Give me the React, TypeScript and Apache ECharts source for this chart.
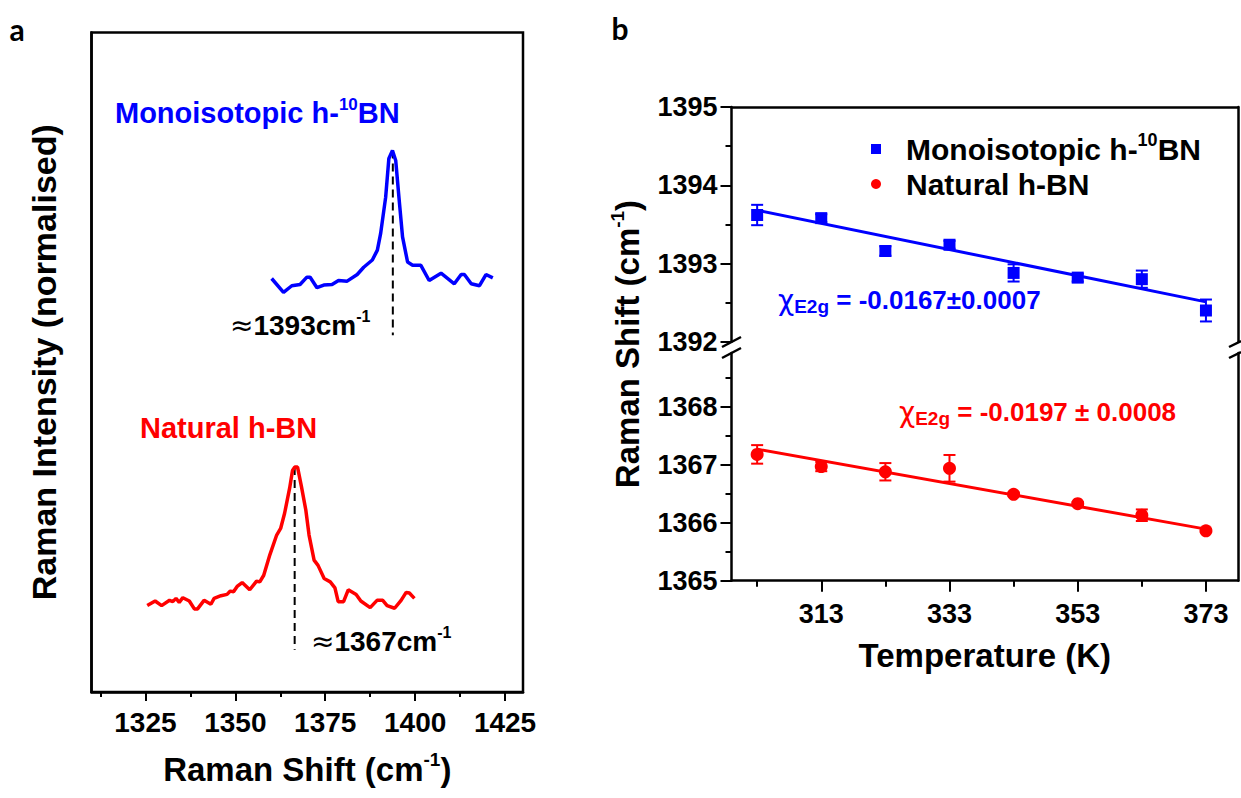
import React, { useEffect, useRef } from 'react';
import * as echarts from 'echarts';

const FONT = "'Liberation Sans', Arial, Helvetica, sans-serif";
const BLUE = '#0000FF';
const RED = '#FF0000';
const BLACK = '#000000';

// ---------- Panel a: Raman spectra (normalised intensity) ----------
const monoShift = [1360.1, 1363.4, 1365.7, 1368.0, 1369.9, 1370.8, 1372.7, 1374.6, 1376.9, 1378.7, 1381.1, 1383.9, 1385.7, 1388.1, 1389.5, 1390.4, 1391.8, 1392.7, 1393.7, 1394.6, 1395.5, 1396.5, 1397.9, 1399.3, 1401.6, 1403.9, 1407.2, 1410.9, 1412.8, 1413.7, 1415.6, 1417.9, 1419.7, 1421.6];
const monoIntensity = [0.627, 0.606, 0.616, 0.618, 0.629, 0.629, 0.613, 0.617, 0.618, 0.624, 0.623, 0.633, 0.644, 0.655, 0.670, 0.695, 0.750, 0.809, 0.821, 0.806, 0.750, 0.690, 0.652, 0.647, 0.647, 0.624, 0.635, 0.619, 0.633, 0.633, 0.619, 0.616, 0.633, 0.628];
const naturalShift = [1325.5, 1327.7, 1329.5, 1331.7, 1332.6, 1333.5, 1334.4, 1335.4, 1337.2, 1338.6, 1339.5, 1341.3, 1343.2, 1344.1, 1346.0, 1347.7, 1348.6, 1349.5, 1350.5, 1351.9, 1354.0, 1355.9, 1356.8, 1357.9, 1359.6, 1361.5, 1362.6, 1363.7, 1365.1, 1365.9, 1366.5, 1367.3, 1368.4, 1369.6, 1370.5, 1371.9, 1373.0, 1374.7, 1376.4, 1377.7, 1378.6, 1380.1, 1381.4, 1383.6, 1384.9, 1387.5, 1389.4, 1391.0, 1392.2, 1394.3, 1396.1, 1397.5, 1398.4, 1399.8];
const naturalIntensity = [0.131, 0.138, 0.131, 0.139, 0.137, 0.142, 0.136, 0.143, 0.138, 0.126, 0.126, 0.139, 0.133, 0.142, 0.146, 0.148, 0.153, 0.152, 0.160, 0.166, 0.155, 0.168, 0.167, 0.177, 0.208, 0.238, 0.248, 0.271, 0.309, 0.336, 0.341, 0.341, 0.311, 0.276, 0.238, 0.200, 0.192, 0.172, 0.167, 0.158, 0.137, 0.137, 0.155, 0.148, 0.138, 0.128, 0.139, 0.139, 0.131, 0.127, 0.139, 0.151, 0.150, 0.142];
const monoPeakShift = 1393.8;
const monoPeakLine = [0.821, 0.541];
const naturalPeakShift = 1366.5;
const naturalPeakLine = [0.341, 0.064];
const shiftTicks = [1325, 1350, 1375, 1400, 1425];
const shiftMinorTicks = [1312.5, 1337.5, 1362.5, 1387.5, 1412.5];

// ---------- Panel b: Raman shift vs temperature ----------
const temperature = [303, 313, 323, 333, 343, 353, 363, 373];
const monoShiftT = [1393.62, 1393.58, 1393.16, 1393.24, 1392.88, 1392.82, 1392.80, 1392.40];
const monoErr = [0.13, 0.05, 0.06, 0.05, 0.11, 0.05, 0.11, 0.14];
const naturalShiftT = [1367.18, 1366.97, 1366.88, 1366.94, 1366.49, 1366.33, 1366.13, 1365.86];
const naturalErr = [0.16, 0.08, 0.15, 0.23, 0.03, 0.03, 0.10, 0.02];
const fitT = [303, 373];
const monoFit = [1393.68, 1392.51];
const naturalFit = [1367.27, 1365.89];
const tempTicks = [313, 333, 353, 373];
const tempMinorTicks = [303, 323, 343, 363];
const upperTicks = [1392, 1393, 1394, 1395];
const upperMinorTicks = [1392.5, 1393.5, 1394.5];
const lowerTicks = [1365, 1366, 1367, 1368];
const lowerMinorTicks = [1365.5, 1366.5, 1367.5, 1368.5];

const MONO_NAME = 'Monoisotopic h-10BN';
const NAT_NAME = 'Natural h-BN';

const plain = (v: number) => String(v);

const richZ = (color: string, size: number, supSize: number) => ({
  t: { fill: color, fontSize: size, fontWeight: 'bold', fontFamily: FONT, lineHeight: size + 6, verticalAlign: 'middle' },
  s: { fill: color, fontSize: supSize, fontWeight: 'bold', fontFamily: FONT, lineHeight: supSize + 2, verticalAlign: 'top' },
  b: { fill: color, fontSize: supSize, fontWeight: 'bold', fontFamily: FONT, lineHeight: supSize + 2, verticalAlign: 'bottom' },
  c: { fill: color, fontSize: size + 2, fontWeight: 'normal', fontFamily: "'DejaVu Sans', sans-serif", lineHeight: size + 6, verticalAlign: 'middle' },
  a: { fill: color, fontSize: size, fontWeight: 'normal', fontFamily: "'DejaVu Sans', sans-serif", lineHeight: size + 6, verticalAlign: 'middle' },
});

const richOpt = (color: string, size: number, supSize: number) => ({
  t: { color, fontSize: size, fontWeight: 'bold', fontFamily: FONT, lineHeight: size + 6, verticalAlign: 'middle' },
  s: { color, fontSize: supSize, fontWeight: 'bold', fontFamily: FONT, lineHeight: supSize + 2, verticalAlign: 'top' },
});

function errorBarRenderer(color: string) {
  return (params: any, api: any) => {
    const x = api.value(0);
    const lo = api.coord([x, api.value(1)]);
    const hi = api.coord([x, api.value(2)]);
    const w = 6;
    const st = { stroke: color, lineWidth: 2 };
    return {
      type: 'group',
      children: [
        { type: 'line', shape: { x1: lo[0], y1: lo[1], x2: hi[0], y2: hi[1] }, style: st },
        { type: 'line', shape: { x1: lo[0] - w, y1: lo[1], x2: lo[0] + w, y2: lo[1] }, style: st },
        { type: 'line', shape: { x1: hi[0] - w, y1: hi[1], x2: hi[0] + w, y2: hi[1] }, style: st },
      ],
    };
  };
}

function buildOption() {
  const axisLineStyle = { color: BLACK, width: 2.5 };
  const tickStyle = { color: BLACK, width: 2 };
  const labelStyle = (size: number, margin: number) => ({
    fontSize: size, fontWeight: 'bold', color: BLACK, fontFamily: FONT, margin, formatter: plain,
  });
  const hiddenAxisBits = { splitLine: { show: false }, axisLabel: { show: false } };

  const xAxis: any[] = [
    // 0: panel a main
    {
      type: 'value', gridIndex: 0, min: 1310, max: 1430, position: 'bottom',
      axisLine: { show: true, onZero: false, lineStyle: axisLineStyle },
      axisTick: { show: true, inside: false, length: 9, lineStyle: tickStyle, customValues: shiftTicks },
      axisLabel: { ...labelStyle(28, 16), customValues: shiftTicks },
      splitLine: { show: false },
      name: '{t|Raman Shift (cm}{s|-1}{t|)}', nameLocation: 'middle', nameGap: 58,
      nameTextStyle: { rich: richOpt(BLACK, 33, 19) },
    },
    // 1: panel a minor ticks
    {
      type: 'value', gridIndex: 0, min: 1310, max: 1430, position: 'bottom',
      axisLine: { show: false, onZero: false },
      axisTick: { show: true, inside: false, length: 5, lineStyle: tickStyle, customValues: shiftMinorTicks },
      ...hiddenAxisBits,
    },
    // 2: panel b upper (top frame line)
    {
      type: 'value', gridIndex: 1, min: 299, max: 378, position: 'top',
      axisLine: { show: true, onZero: false, lineStyle: axisLineStyle },
      axisTick: { show: false },
      ...hiddenAxisBits,
    },
    // 3: panel b lower main
    {
      type: 'value', gridIndex: 2, min: 299, max: 378, position: 'bottom',
      axisLine: { show: true, onZero: false, lineStyle: axisLineStyle },
      axisTick: { show: true, inside: false, length: 11, lineStyle: tickStyle, customValues: tempTicks },
      axisLabel: { ...labelStyle(27, 20), customValues: tempTicks },
      splitLine: { show: false },
      name: 'Temperature (K)', nameLocation: 'middle', nameGap: 58,
      nameTextStyle: { fontSize: 33, fontWeight: 'bold', color: BLACK, fontFamily: FONT },
    },
    // 4: panel b lower minor
    {
      type: 'value', gridIndex: 2, min: 299, max: 378, position: 'bottom',
      axisLine: { show: false, onZero: false },
      axisTick: { show: true, inside: false, length: 6, lineStyle: tickStyle, customValues: tempMinorTicks },
      ...hiddenAxisBits,
    },
  ];

  const yAxis: any[] = [
    // 0: panel a intensity
    {
      type: 'value', gridIndex: 0, min: 0, max: 1, position: 'left',
      axisLine: { show: true, onZero: false, lineStyle: axisLineStyle },
      axisTick: { show: false },
      axisLabel: { show: false },
      splitLine: { show: false },
      name: 'Raman Intensity (normalised)', nameLocation: 'middle', nameGap: 31,
      nameTextStyle: { fontSize: 34, fontWeight: 'bold', color: BLACK, fontFamily: FONT },
    },
    // 1: panel b upper main
    {
      type: 'value', gridIndex: 1, min: 1392, max: 1395, position: 'left',
      axisLine: { show: true, onZero: false, lineStyle: axisLineStyle },
      axisTick: { show: true, inside: false, length: 11, lineStyle: tickStyle, customValues: upperTicks },
      axisLabel: { ...labelStyle(27, 14), customValues: upperTicks },
      splitLine: { show: false },
    },
    // 2: panel b upper minor
    {
      type: 'value', gridIndex: 1, min: 1392, max: 1395, position: 'left',
      axisLine: { show: false, onZero: false },
      axisTick: { show: true, inside: false, length: 6, lineStyle: tickStyle, customValues: upperMinorTicks },
      ...hiddenAxisBits,
    },
    // 3: panel b upper right frame
    {
      type: 'value', gridIndex: 1, min: 1392, max: 1395, position: 'right',
      axisLine: { show: true, onZero: false, lineStyle: axisLineStyle },
      axisTick: { show: false },
      ...hiddenAxisBits,
    },
    // 4: panel b lower main
    {
      type: 'value', gridIndex: 2, min: 1365, max: 1368.93, position: 'left',
      axisLine: { show: true, onZero: false, lineStyle: axisLineStyle },
      axisTick: { show: true, inside: false, length: 11, lineStyle: tickStyle, customValues: lowerTicks },
      axisLabel: { ...labelStyle(27, 14), customValues: lowerTicks },
      splitLine: { show: false },
    },
    // 5: panel b lower minor
    {
      type: 'value', gridIndex: 2, min: 1365, max: 1368.93, position: 'left',
      axisLine: { show: false, onZero: false },
      axisTick: { show: true, inside: false, length: 6, lineStyle: tickStyle, customValues: lowerMinorTicks },
      ...hiddenAxisBits,
    },
    // 6: panel b lower right frame
    {
      type: 'value', gridIndex: 2, min: 1365, max: 1368.93, position: 'right',
      axisLine: { show: true, onZero: false, lineStyle: axisLineStyle },
      axisTick: { show: false },
      ...hiddenAxisBits,
    },
  ];

  const series: any[] = [
    {
      name: 'mono spectrum', type: 'line', xAxisIndex: 0, yAxisIndex: 0,
      data: monoShift.map((x, i) => [x, monoIntensity[i]]),
      showSymbol: false, symbol: 'none', lineStyle: { color: BLUE, width: 3.5 }, itemStyle: { color: BLUE },
    },
    {
      name: 'natural spectrum', type: 'line', xAxisIndex: 0, yAxisIndex: 0,
      data: naturalShift.map((x, i) => [x, naturalIntensity[i]]),
      showSymbol: false, symbol: 'none', lineStyle: { color: RED, width: 3.5 }, itemStyle: { color: RED },
    },
    {
      name: 'mono peak', type: 'line', xAxisIndex: 0, yAxisIndex: 0,
      data: monoPeakLine.map((y) => [monoPeakShift, y]),
      symbol: 'none', lineStyle: { color: BLACK, width: 2, type: [8, 5] }, z: 1,
    },
    {
      name: 'natural peak', type: 'line', xAxisIndex: 0, yAxisIndex: 0,
      data: naturalPeakLine.map((y) => [naturalPeakShift, y]),
      symbol: 'none', lineStyle: { color: BLACK, width: 2, type: [8, 5] }, z: 1,
    },
    {
      name: 'mono fit', type: 'line', xAxisIndex: 2, yAxisIndex: 1,
      data: fitT.map((t, i) => [t, monoFit[i]]),
      symbol: 'none', lineStyle: { color: BLUE, width: 3 },
    },
    {
      name: 'mono err', type: 'custom', xAxisIndex: 2, yAxisIndex: 1,
      data: temperature.map((t, i) => [t, monoShiftT[i] - monoErr[i], monoShiftT[i] + monoErr[i]]),
      renderItem: errorBarRenderer(BLUE), z: 3,
    },
    {
      name: MONO_NAME, type: 'scatter', xAxisIndex: 2, yAxisIndex: 1,
      data: temperature.map((t, i) => [t, monoShiftT[i]]),
      symbol: 'rect', symbolSize: 12, itemStyle: { color: BLUE, opacity: 1 }, z: 4,
    },
    {
      name: 'natural fit', type: 'line', xAxisIndex: 3, yAxisIndex: 4,
      data: fitT.map((t, i) => [t, naturalFit[i]]),
      symbol: 'none', lineStyle: { color: RED, width: 3 },
    },
    {
      name: 'natural err', type: 'custom', xAxisIndex: 3, yAxisIndex: 4,
      data: temperature.map((t, i) => [t, naturalShiftT[i] - naturalErr[i], naturalShiftT[i] + naturalErr[i]]),
      renderItem: errorBarRenderer(RED), z: 3,
    },
    {
      name: NAT_NAME, type: 'scatter', xAxisIndex: 3, yAxisIndex: 4,
      data: temperature.map((t, i) => [t, naturalShiftT[i]]),
      symbol: 'circle', symbolSize: 13, itemStyle: { color: RED, opacity: 1 }, z: 4,
    },
  ];

  const breakLine = (x1: number, y1: number, x2: number, y2: number) => ({
    type: 'line', shape: { x1, y1, x2, y2 }, style: { stroke: BLACK, lineWidth: 2.5 }, z: 100,
  });

  const graphic: any[] = [
    { type: 'text', x: 17, y: 29, style: { text: 'a', fontSize: 30, fontWeight: 'bold', fontFamily: "Lato, 'Liberation Sans', sans-serif", fill: BLACK, align: 'center', verticalAlign: 'middle' } },
    { type: 'text', x: 620, y: 28, style: { text: 'b', fontSize: 30, fontWeight: 'bold', fontFamily: "Lato, 'Liberation Sans', sans-serif", fill: BLACK, align: 'center', verticalAlign: 'middle' } },
    { type: 'text', x: 115, y: 113, style: { text: '{t|Monoisotopic h-}{s|10}{t|BN}', rich: richZ(BLUE, 29, 17), align: 'left', verticalAlign: 'middle' } },
    { type: 'text', x: 140, y: 428, style: { text: '{t|Natural h-BN}', rich: richZ(RED, 29, 17), align: 'left', verticalAlign: 'middle' } },
    { type: 'text', x: 230, y: 325, style: { text: '{a|≈}{t|1393cm}{s|-1}', rich: richZ(BLACK, 28, 16), align: 'left', verticalAlign: 'middle' } },
    { type: 'text', x: 311, y: 641, style: { text: '{a|≈}{t|1367cm}{s|-1}', rich: richZ(BLACK, 28, 16), align: 'left', verticalAlign: 'middle' } },
    { type: 'text', x: 778, y: 300, style: { text: '{c|χ}{b|E2g}{t| = -0.0167±0.0007}', rich: richZ(BLUE, 26, 19), align: 'left', verticalAlign: 'middle' } },
    { type: 'text', x: 899, y: 412, style: { text: '{c|χ}{b|E2g}{t| = -0.0197 ± 0.0008}', rich: richZ(RED, 26, 19), align: 'left', verticalAlign: 'middle' } },
    { type: 'text', x: 627, y: 344, rotation: Math.PI / 2, style: { text: '{t|Raman Shift (cm}{s|-1}{t|)}', rich: richZ(BLACK, 33, 19), align: 'center', verticalAlign: 'middle' } },
    // axis break marks
    breakLine(722, 347, 741, 337),
    breakLine(722, 358, 741, 348),
    breakLine(1229, 347, 1241, 341),
    breakLine(1229, 358, 1241, 352),
  ];

  return {
    animation: false,
    backgroundColor: '#ffffff',
    textStyle: { fontFamily: FONT },
    grid: [
      { left: 91.5, top: 32.5, width: 431.5, height: 659.5, show: true, borderColor: BLACK, borderWidth: 2.5 },
      { left: 731.5, top: 107, width: 506.5, height: 234.8 },
      { left: 731.5, top: 353, width: 506.5, height: 227.7 },
    ],
    legend: {
      orient: 'vertical', left: 866, top: 126, itemWidth: 10, itemHeight: 10, itemGap: 5,
      data: [{ name: MONO_NAME, icon: 'rect' }, { name: NAT_NAME, icon: 'circle' }],
      formatter: (name: string) => (name === MONO_NAME ? '{t|Monoisotopic h-}{s|10}{t|BN}' : '{t|Natural h-BN}'),
      textStyle: { padding: [0, 0, 0, 20], rich: richOpt(BLACK, 30, 18) },
      itemStyle: { opacity: 1 },
      selectedMode: false,
    },
    xAxis,
    yAxis,
    series,
    graphic,
  };
}

export default function App() {
  const ref = useRef<HTMLDivElement>(null);
  useEffect(() => {
    if (!ref.current) return;
    const chart = echarts.init(ref.current, undefined, { renderer: 'svg' });
    chart.setOption(buildOption() as any);
    return () => chart.dispose();
  }, []);
  return (
    <div
      ref={ref}
      style={{ position: 'fixed', left: 0, top: 0, width: 1241, height: 798, background: '#fff' }}
    />
  );
}
